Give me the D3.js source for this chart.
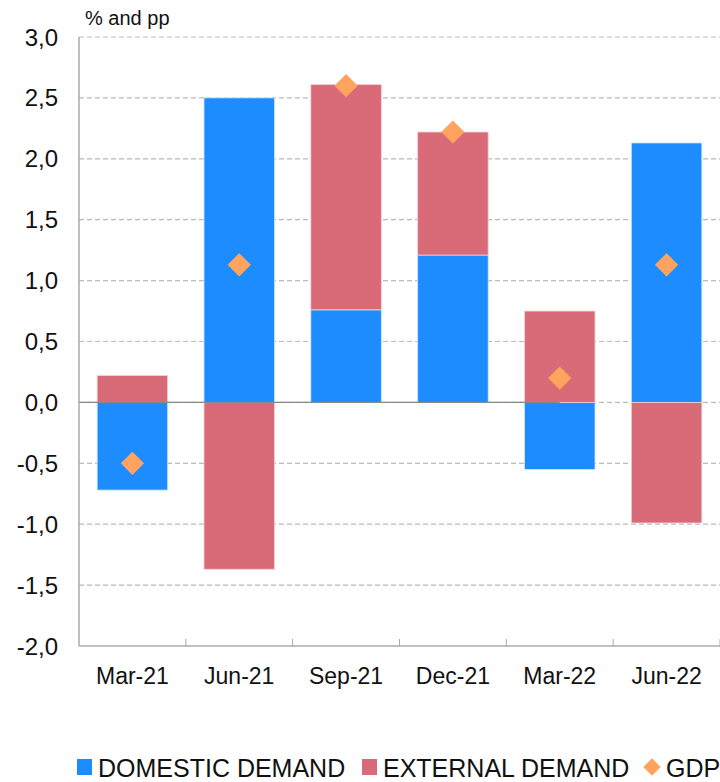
<!DOCTYPE html>
<html>
<head>
<meta charset="utf-8">
<script src="https://cdn.jsdelivr.net/npm/d3@7"></script>
<style>
  body { margin: 0; background: #fff; }
  text { font-family: "Liberation Sans", Arial, sans-serif; fill: #111; }
</style>
</head>
<body>
<div></div>
<script>
const width = 720;
const height = 782;

// data
const quarters = ['Mar-21', 'Jun-21', 'Sep-21', 'Dec-21', 'Mar-22', 'Jun-22'];
const domestic = [-0.72, 2.50, 0.76, 1.21, -0.55, 2.13];
const external = [0.22, -1.37, 1.85, 1.01, 0.75, -0.99];
const gdp = [-0.50, 1.13, 2.60, 2.22, 0.20, 1.13];
const yTicks = [-2.0, -1.5, -1.0, -0.5, 0.0, 0.5, 1.0, 1.5, 2.0, 2.5, 3.0];

const colors = { domestic: '#1c8cff', external: '#d96b79', gdp: '#ffa35e' };

const svg = d3.select('div').append('svg').attr('width', width).attr('height', height);

const x = d3.scaleBand().domain(quarters).range([79, 720]).paddingInner(0.34).paddingOuter(0.17);
const y = d3.scaleLinear().domain([-2, 3]).range([646, 37]);

// gridlines
svg.append('g').selectAll('line').data(yTicks.filter(d => d !== -2)).enter().append('line')
    .attr('x1', 79).attr('x2', 720)
    .attr('y1', d => y(d)).attr('y2', d => y(d))
    .attr('stroke', '#bbb').attr('stroke-width', 1.2).attr('stroke-dasharray', '5,3');

// stacked bars: positives stack up from 0, negatives down
const rows = quarters.map((q, i) => ({ q, d: domestic[i], e: external[i] }));
const segs = [];
rows.forEach(r => {
    let pos = 0, neg = 0;
    [['domestic', r.d], ['external', r.e]].forEach(([k, v]) => {
        if (v >= 0) { segs.push({ q: r.q, k, y0: pos, y1: pos + v }); pos += v; }
        else { segs.push({ q: r.q, k, y0: neg + v, y1: neg }); neg += v; }
    });
});

svg.append('g').selectAll('rect').data(segs).enter().append('rect')
    .attr('x', d => x(d.q))
    .attr('width', x.bandwidth())
    .attr('y', d => y(d.y1))
    .attr('height', d => y(d.y0) - y(d.y1))
    .attr('fill', d => colors[d.k])
    .attr('stroke', d => d.k === 'domestic' ? '#cfe6ff' : '#f2d3d7')
    .attr('stroke-width', 0.8);

// zero line (solid part)
svg.append('line')
    .attr('x1', 79).attr('x2', x('Mar-22') + x.bandwidth() / 2)
    .attr('y1', y(0)).attr('y2', y(0))
    .attr('stroke', '#888').attr('stroke-width', 1.3);

// GDP diamonds
const diamond = d3.symbol().type(d3.symbolSquare).size(270);
svg.append('g').selectAll('path').data(quarters).enter().append('path')
    .attr('d', diamond)
    .attr('transform', (q, i) => 'translate(' + (x(q) + x.bandwidth() / 2) + ',' + y(gdp[i]) + ') rotate(45)')
    .attr('fill', colors.gdp);

// axes
svg.append('line').attr('x1', 79).attr('x2', 79).attr('y1', y(3)).attr('y2', y(-2))
    .attr('stroke', '#aaa').attr('stroke-width', 1.5);
svg.append('line').attr('x1', 79).attr('x2', 720).attr('y1', y(-2)).attr('y2', y(-2))
    .attr('stroke', '#aaa').attr('stroke-width', 1.5);

const step = x.step();
svg.append('g').selectAll('line').data(quarters).enter().append('line')
    .attr('x1', (q) => x(q) + x.bandwidth() / 2 + step / 2)
    .attr('x2', (q) => x(q) + x.bandwidth() / 2 + step / 2)
    .attr('y1', y(-2)).attr('y2', y(-2) - 7)
    .attr('stroke', '#aaa').attr('stroke-width', 1);

// y tick labels
svg.append('g').selectAll('text').data(yTicks).enter().append('text')
    .attr('x', 58).attr('y', d => y(d) + 8.5)
    .attr('text-anchor', 'end')
    .style('font-size', '24px')
    .text(d => d.toFixed(1).replace('.', ','));

// x labels
svg.append('g').selectAll('text').data(quarters).enter().append('text')
    .attr('x', q => x(q) + x.bandwidth() / 2).attr('y', 684)
    .attr('text-anchor', 'middle')
    .style('font-size', '23px')
    .text(q => q);

// unit label
svg.append('text').attr('x', 85).attr('y', 25).style('font-size', '20px').text('% and pp');

// legend
const legend = svg.append('g');
const items = [
    { label: 'DOMESTIC DEMAND', color: colors.domestic, x: 77, shape: 'sq' },
    { label: 'EXTERNAL DEMAND', color: colors.external, x: 362, shape: 'sq' },
    { label: 'GDP', color: colors.gdp, x: 643, shape: 'dia' }
];
items.forEach(it => {
    if (it.shape === 'sq') {
        legend.append('rect').attr('x', it.x).attr('y', 759).attr('width', 15).attr('height', 16).attr('fill', it.color);
    } else {
        legend.append('path').attr('d', d3.symbol().type(d3.symbolSquare).size(150))
            .attr('transform', 'translate(' + (it.x + 9) + ',767) rotate(45)').attr('fill', it.color);
    }
    legend.append('text').attr('x', it.x + (it.shape === 'sq' ? 21 : 23)).attr('y', 777)
        .style('font-size', '25px')
        .text(it.label);
});
</script>
</body>
</html>
